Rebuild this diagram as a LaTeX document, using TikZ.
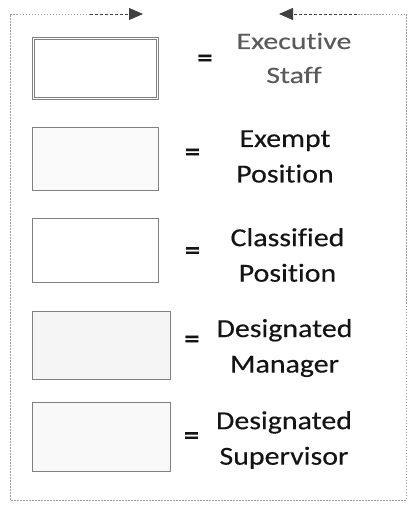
\documentclass[tikz,border=0pt]{standalone}
\usepackage{fontspec}
\setmainfont{Carlito}[Ligatures=NoCommon]
\newfontfamily\legendfont{Carlito}[Ligatures=NoCommon, FakeStretch=1.15, FakeBold=0.3]
\newfontfamily\execfont{Carlito}[Ligatures=NoCommon, FakeStretch=1.27, FakeBold=0.3]
\usetikzlibrary{arrows.meta, positioning}
\definecolor{framegray}{RGB}{160, 160, 160}
\definecolor{boxgray}{RGB}{128, 128, 128}
\definecolor{textgray}{RGB}{90, 90, 90}
\definecolor{textblack}{RGB}{20, 20, 20}
\tikzset{
    legendbox/.style={draw=boxgray, line width=0.9pt, rectangle, inner sep=0pt},
    eqsign/.style={font=\legendfont\bfseries\fontsize{26}{26}\selectfont, text=textblack, inner sep=0pt},
    legendtext/.style={align=center, font=\legendfont\fontsize{26}{35.5}\selectfont, text=textblack, inner sep=0pt},
    frameline/.style={draw=framegray, line width=0.9pt, dash pattern=on 1.5pt off 1.5pt},
    tipline/.style={draw=black!75, line width=0.9pt, dash pattern=on 3pt off 2pt, -{Triangle[length=14pt, width=12pt]}}
}

\begin{document}
\begin{tikzpicture}[x=1pt, y=-1pt]
    \useasboundingbox (0,0) rectangle (410,506);

    % outer frame
    \coordinate (tl) at (10,14);
    \coordinate (tr) at (406,14);
    \coordinate (bl) at (10,500);
    \coordinate (br) at (406,500);
    \coordinate (lefttip) at (143,14);
    \coordinate (righttip) at (279,14);
    \coordinate (leftmid) at (90,14);
    \coordinate (rightmid) at (357,14);
    \draw[frameline] (leftmid) -- (tl) -- (bl) -- (br) -- (tr) -- (rightmid);
    \draw[tipline] (leftmid) -- (lefttip);
    \draw[tipline] (rightmid) -- (righttip);

    % legend boxes
    \node[legendbox, double=white, double distance=1.5pt, minimum width=124pt, minimum height=60pt] (execbox) at (95.5,68.5) {};
    \node[legendbox, fill=gray!4, minimum width=126pt, minimum height=63pt] (exemptbox) at (95.5,159) {};
    \node[legendbox, fill=white, minimum width=126pt, minimum height=64pt] (classbox) at (95.5,250.5) {};
    \node[legendbox, fill=gray!8, minimum width=138pt, minimum height=68pt] (managerbox) at (101,345) {};
    \node[legendbox, fill=gray!5, minimum width=138pt, minimum height=69pt] (supervisorbox) at (101,436.5) {};

    % equals signs
    \node[eqsign] (execeq) at (205,60.5) {=};
    \node[eqsign] (exempteq) at (192.5,154.5) {=};
    \node[eqsign] (classeq) at (192.5,253) {=};
    \node[eqsign] (managereq) at (192,341.5) {=};
    \node[eqsign] (supervisoreq) at (191.5,438) {=};

    % labels
    \node[align=center, inner sep=0pt, font=\execfont\fontsize{23.5}{34}\selectfont, text=textgray] (exectext) at (294,58) {Executive\\Staff};
    \node[legendtext] (exempttext) at (285,156.5) {Exempt\\Position};
    \node[legendtext] (classtext) at (287.5,255) {Classified\\Position};
    \node[legendtext] (managertext) at (284.5,348) {Designated\\Manager};
    \node[legendtext] (supervisortext) at (284,440) {Designated\\Supervisor};
\end{tikzpicture}
\end{document}
